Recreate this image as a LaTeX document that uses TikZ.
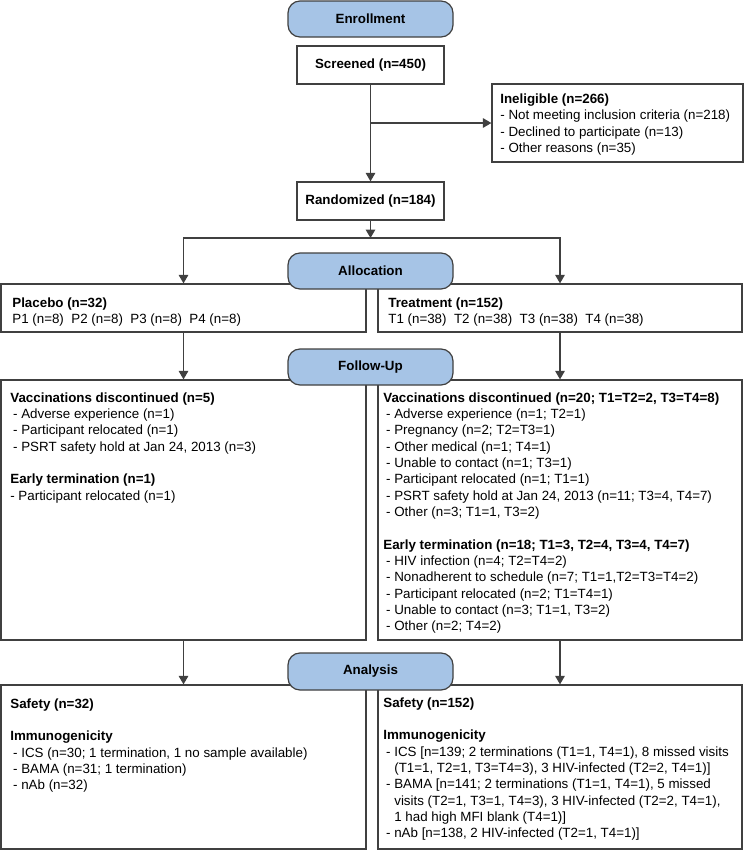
\documentclass[tikz,border=0pt]{standalone}
\usepackage{fontspec}
\setmainfont{Liberation Sans}
\usetikzlibrary{arrows.meta}
\definecolor{phaseblue}{RGB}{166,196,230}
\definecolor{linegray}{RGB}{64,64,64}
\newcommand{\itm}{\hspace*{1.6pt}-\ }
\newcommand{\cnt}{\hspace*{1.6pt}\phantom{-\ }}
\newenvironment{boxlines}{\begin{tabular}[t]{@{}l@{}}}{\end{tabular}}
\begin{document}
\begin{tikzpicture}[
    box/.style={draw=linegray, line width=0.7pt, fill=white, inner sep=0pt},
    phase/.style={box, rounded corners=0.24cm, fill=phaseblue, minimum width=3.300000cm, minimum height=0.720000cm, font=\fontsize{7.6}{9.3}\selectfont\bfseries},
    arr/.style={draw=linegray, line width=0.7pt, -{Triangle[length=4.8pt,width=5.4pt]}},
    txt/.style={anchor=base west, inner sep=0pt, font=\fontsize{7.6}{9.3}\selectfont}
  ]
  \useasboundingbox (0,0) rectangle (14.880000,-17.000000);
  {\fontsize{7.6}{9.3}\selectfont

  % Screening boxes
  \node [box, minimum width=2.940000cm, minimum height=0.760000cm, font=\bfseries] (scr) at (7.410000,-1.300000) {Screened (n=450)};%
  \node [box, minimum width=5.020000cm, minimum height=1.560000cm] (inel) at (12.350000,-2.460000) {};%
  \node [txt] (ineltxt) at (10.000000,-2.070000) {\begin{boxlines}\textbf{Ineligible (n=266)}\\- Not meeting inclusion criteria (n=218)\\- Declined to participate (n=13)\\- Other reasons (n=35)\end{boxlines}};%
  \node [box, minimum width=2.940000cm, minimum height=0.760000cm, font=\bfseries] (rand) at (7.410000,-4.020000) {Randomized (n=184)};%

  % Allocation boxes
  \node [box, minimum width=7.300000cm, minimum height=0.960000cm] (plac) at (3.670000,-6.160000) {};%
  \node [txt] (plactxt) at (0.240000,-6.140000) {\begin{boxlines}\textbf{Placebo (n=32)}\\P1 (n=8)\ \ P2 (n=8)\ \ P3 (n=8)\ \ P4 (n=8)\end{boxlines}};%
  \node [box, minimum width=7.280000cm, minimum height=0.960000cm] (treat) at (11.200000,-6.160000) {};%
  \node [txt] (treattxt) at (7.760000,-6.140000) {\begin{boxlines}\textbf{Treatment (n=152)}\\T1 (n=38)\ \ T2 (n=38)\ \ T3 (n=38)\ \ T4 (n=38)\end{boxlines}};%

  % Follow-up boxes
  \node [box, minimum width=7.300000cm, minimum height=5.200000cm] (fuL) at (3.670000,-10.200000) {};%
  \node [txt] (fuLtxt) at (0.200000,-8.040000) {\begin{boxlines}\textbf{Vaccinations discontinued (n=5)}\\\itm Adverse experience (n=1)\\\itm Participant relocated (n=1)\\\itm PSRT safety hold at Jan 24, 2013 (n=3)\\[9.3pt]\textbf{Early termination (n=1)}\\- Participant relocated (n=1)\end{boxlines}};%
  \node [box, minimum width=7.280000cm, minimum height=5.200000cm] (fuR) at (11.200000,-10.200000) {};%
  \node [txt] (fuRtxt) at (7.660000,-8.040000) {\begin{boxlines}\textbf{Vaccinations discontinued (n=20; T1=T2=2, T3=T4=8)}\\\itm Adverse experience (n=1; T2=1)\\\itm Pregnancy (n=2; T2=T3=1)\\\itm Other medical (n=1; T4=1)\\\itm Unable to contact (n=1; T3=1)\\\itm Participant relocated (n=1; T1=1)\\\itm PSRT safety hold at Jan 24, 2013 (n=11; T3=4, T4=7)\\\itm Other (n=3; T1=1, T3=2)\\[9.3pt]\textbf{Early termination (n=18; T1=3, T2=4, T3=4, T4=7)}\\\itm HIV infection (n=4; T2=T4=2)\\\itm Nonadherent to schedule (n=7; T1=1,T2=T3=T4=2)\\\itm Participant relocated (n=2; T1=T4=1)\\\itm Unable to contact (n=3; T1=1, T3=2)\\\itm Other (n=2; T4=2)\end{boxlines}};%

  % Analysis boxes
  \node [box, minimum width=7.300000cm, minimum height=3.280000cm] (anL) at (3.670000,-15.340000) {};%
  \node [txt] (anLtxt) at (0.200000,-14.160000) {\begin{boxlines}\textbf{Safety (n=32)}\\[9.3pt]\textbf{Immunogenicity}\\\itm ICS (n=30; 1 termination, 1 no sample available)\\\itm BAMA (n=31; 1 termination)\\\itm nAb (n=32)\end{boxlines}};%
  \node [box, minimum width=7.280000cm, minimum height=3.280000cm] (anR) at (11.200000,-15.340000) {};%
  \node [txt] (anRtxt) at (7.660000,-14.140000) {\begin{boxlines}\textbf{Safety (n=152)}\\[9.3pt]\textbf{Immunogenicity}\\\itm ICS [n=139; 2 terminations (T1=1, T4=1), 8 missed visits\\\cnt (T1=1, T2=1, T3=T4=3), 3 HIV-infected (T2=2, T4=1)]\\\itm BAMA [n=141; 2 terminations (T1=1, T4=1), 5 missed\\\cnt visits (T2=1, T3=1, T4=3), 3 HIV-infected (T2=2, T4=1),\\\cnt 1 had high MFI blank (T4=1)]\\\itm nAb [n=138, 2 HIV-infected (T2=1, T4=1)]\end{boxlines}};%

  % Connectors
  \coordinate (split) at (7.410000,-4.760000);%
  \draw [arr] (scr) -- (rand);%
  \draw [arr] (scr.south |- inel.west) -- (inel.west);%
  \draw [arr] (rand) -- (split);%
  \draw [arr] (split) -| (plac.north);%
  \draw [arr] (split) -| (treat.north);%
  \draw [arr] (plac) -- (fuL);%
  \draw [arr] (treat) -- (fuR);%
  \draw [arr] (fuL) -- (anL);%
  \draw [arr] (fuR) -- (anR);%

  % Phase labels
  \node [phase] (enroll) at (7.410000,-0.380000) {Enrollment};%
  \node [phase] (alloc) at (7.410000,-5.420000) {Allocation};%
  \node [phase] (follow) at (7.410000,-7.340000) {Follow-Up};%
  \node [phase, minimum height=0.740000cm] (anal) at (7.410000,-13.430000) {Analysis};%
  }
\end{tikzpicture}
\end{document}
